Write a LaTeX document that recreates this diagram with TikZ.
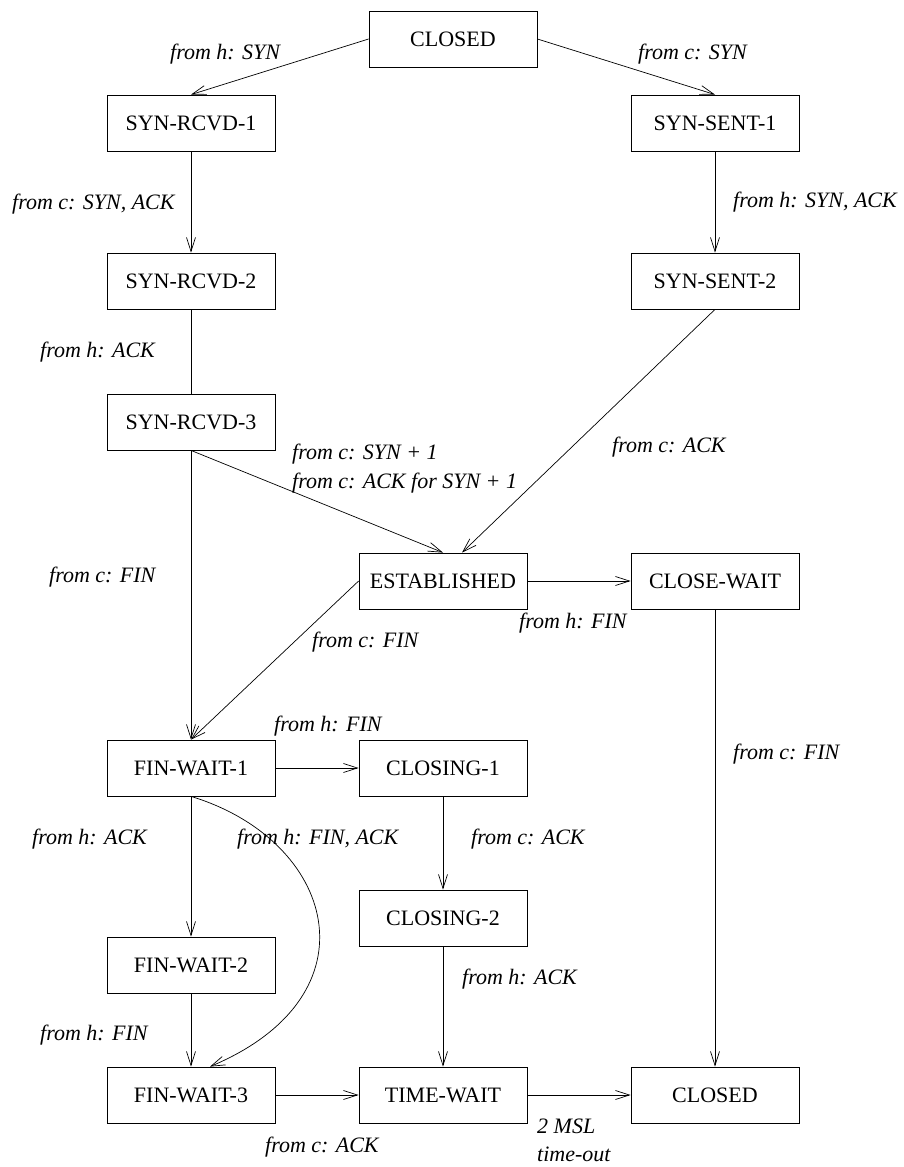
\documentclass[tikz,border=0pt]{standalone}
\usepackage{fontspec}
\setmainfont{Liberation Serif}
\usetikzlibrary{arrows.meta}
\tikzset{
  state/.style={draw, line width=0.8pt, minimum width=168pt, minimum height=56pt, inner sep=0pt, font=\fontsize{22}{26}\selectfont},
  lbl/.style={anchor=base west, inner sep=0pt, font=\fontsize{22}{26}\selectfont\itshape},
  arr/.style={line width=0.7pt, -{Straight Barb[length=14pt,width=9pt,line width=0.7pt]}},
  ln/.style={line width=0.7pt}
}
\begin{document}
\begin{tikzpicture}[x=1pt,y=-1pt]
\useasboundingbox (0,0) rectangle (903,1167);
% states
\node[state] (c0)  at (453,39)   {CLOSED};
\node[state] (r1)  at (191,123)  {SYN-RCVD-1};
\node[state] (s1)  at (715,123)  {SYN-SENT-1};
\node[state] (r2)  at (191,281)  {SYN-RCVD-2};
\node[state] (s2)  at (715,281)  {SYN-SENT-2};
\node[state] (r3)  at (191,422)  {SYN-RCVD-3};
\node[state] (est) at (443,581)  {ESTABLISHED};
\node[state] (cw)  at (715,581)  {CLOSE-WAIT};
\node[state] (fw1) at (191,768)  {FIN-WAIT-1};
\node[state] (cl1) at (443,768)  {CLOSING-1};
\node[state] (cl2) at (443,918)  {CLOSING-2};
\node[state] (fw2) at (191,965)  {FIN-WAIT-2};
\node[state] (fw3) at (191,1095) {FIN-WAIT-3};
\node[state] (tw)  at (443,1095) {TIME-WAIT};
\node[state] (c1)  at (715,1095) {CLOSED};
% connectors
\draw[arr] (c0.west) -- (r1.north);
\draw[arr] (c0.east) -- (s1.north);
\draw[arr] (r1) -- (r2);
\draw[arr] (s1) -- (s2);
\draw[ln]  (r2) -- (r3);
\draw[arr] (r3.south) -- (est.north);
\coordinate (estin) at ([xshift=19pt]est.north);
\draw[arr] (s2.south) -- (estin);
\draw[arr] (r3) -- (fw1);
\draw[arr] (est.west) -- (fw1.north);
\draw[arr] (est) -- (cw);
\draw[arr] (cw) -- (c1);
\draw[arr] (fw1) -- (cl1);
\draw[arr] (fw1) -- (fw2);
\coordinate (fw3in) at ([xshift=19pt]fw3.north);
\draw[arr] (fw1.south) .. controls (335,840) and (380,995) .. (fw3in);
\draw[arr] (cl1) -- (cl2);
\draw[arr] (cl2) -- (tw);
\draw[arr] (fw2) -- (fw3);
\draw[arr] (fw3) -- (tw);
\draw[arr] (tw) -- (c1);
% labels
\node[lbl] (l1)  at (170,59)   {from h: SYN};
\node[lbl] (l2)  at (638,59)   {from c: SYN};
\node[lbl] (l3)  at (12,209)   {from c: SYN, ACK};
\node[lbl] (l4)  at (733,207)  {from h: SYN, ACK};
\node[lbl] (l5)  at (40,357)   {from h: ACK};
\node[lbl] (l6)  at (292,459)  {from c: SYN + 1};
\node[lbl] (l7)  at (292,488)  {from c: ACK for SYN + 1};
\node[lbl] (l8)  at (612,452)  {from c: ACK};
\node[lbl] (l9)  at (49,582)   {from c: FIN};
\node[lbl] (l10) at (519,628)  {from h: FIN};
\node[lbl] (l11) at (312,647)  {from c: FIN};
\node[lbl] (l12) at (274,731)  {from h: FIN};
\node[lbl] (l13) at (733,759)  {from c: FIN};
\node[lbl] (l14) at (32,844)   {from h: ACK};
\node[lbl] (l15) at (237,844)  {from h: FIN, ACK};
\node[lbl] (l16) at (471,844)  {from c: ACK};
\node[lbl] (l17) at (462,984)  {from h: ACK};
\node[lbl] (l18) at (40,1040)  {from h: FIN};
\node[lbl] (l19) at (265,1152) {from c: ACK};
\node[lbl] (l20) at (537,1133) {2 MSL};
\node[lbl] (l21) at (537,1161) {time-out};
\end{tikzpicture}
\end{document}
